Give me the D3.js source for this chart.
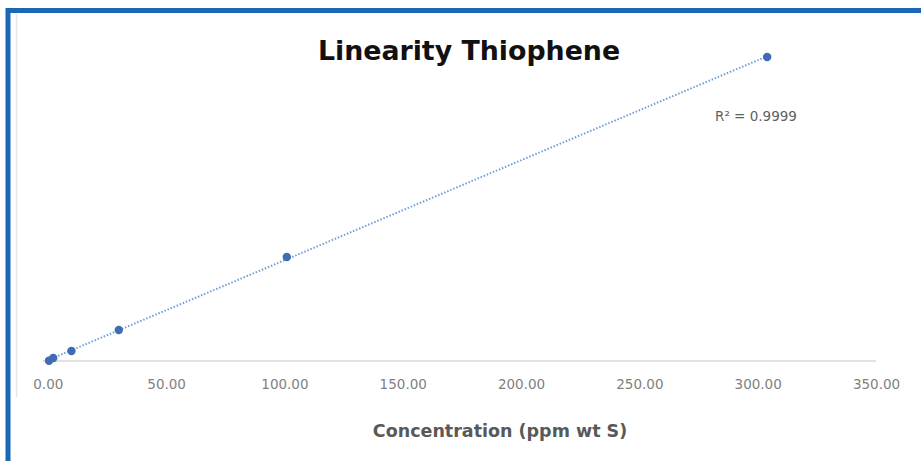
<!DOCTYPE html>
<html lang="en">
<head>
  <meta charset="UTF-8">
  <title>Linearity Thiophene</title>
  <script src="https://d3js.org/d3.v7.min.js"></script>
  <style>
    body { margin: 0; background: #fff; }
    svg { display: block; }
    .tick text { font-family: "DejaVu Sans", sans-serif; }
  </style>
</head>
<body>
<div id="chart"></div>
<script>

// data
const concentration = [0.5, 2.3, 10, 30, 101, 304];   // ppm wt S
const response = [0.3, 3, 10, 31, 104, 304];           // detector response (axis hidden)
const xTicks = [0, 50, 100, 150, 200, 250, 300, 350];
const titleText = "Linearity Thiophene";
const xTitle = "Concentration (ppm wt S)";
const r2Text = "R² = 0.9999";

const width = 921;
const height = 461;

const svg = d3.select("#chart")
  .append("svg")
  .attr("width", width)
  .attr("height", height);

// frame: blue border on top and left
svg.append("path")
  .attr("d", `M8,${height} V10.5 H${width}`)
  .attr("fill", "none")
  .attr("stroke", "#1a68b4")
  .attr("stroke-width", 5);

// faint chart-area edge
svg.append("line")
  .attr("x1", 16.5).attr("x2", 16.5)
  .attr("y1", 14).attr("y2", 397)
  .attr("stroke", "#e6e6e6")
  .attr("stroke-width", 1.5);

// scales
const x = d3.scaleLinear().domain([0, 350]).range([47.8, 876]);
const y = d3.scaleLinear().domain([0, 304]).range([361, 57]);

// x axis
const xAxis = svg.append("g")
  .attr("transform", `translate(0,${y(0)})`)
  .call(d3.axisBottom(x).tickValues(xTicks).tickSize(0).tickPadding(18)
    .tickFormat(d3.format(".2f")));
xAxis.select(".domain")
  .attr("d", `M${x(0) - 5},0H${x(350)}`)
  .attr("stroke", "#d9d9d9")
  .attr("stroke-width", 1.5);
xAxis.selectAll(".tick text")
  .attr("font-size", 13.5)
  .attr("fill", "#7f7f7f");

// linear trendline (least squares)
const mx = d3.mean(concentration);
const my = d3.mean(response);
const slope = d3.sum(concentration, (c, i) => (c - mx) * (response[i] - my)) /
  d3.sum(concentration, c => (c - mx) * (c - mx));
const intercept = my - slope * mx;
const xMin = d3.min(concentration);
const xMax = d3.max(concentration);

svg.append("line")
  .attr("x1", x(xMin)).attr("y1", y(intercept + slope * xMin))
  .attr("x2", x(xMax)).attr("y2", y(intercept + slope * xMax))
  .attr("stroke", "#6f9fd8")
  .attr("stroke-width", 2)
  .attr("stroke-dasharray", "1.5,1.8");

// markers
svg.append("g")
  .selectAll("circle")
  .data(concentration)
  .join("circle")
  .attr("cx", d => x(d))
  .attr("cy", (d, i) => y(response[i]))
  .attr("r", 4.2)
  .attr("fill", "#3f6db3");

// R squared label
svg.append("text")
  .attr("x", 715)
  .attr("y", 121)
  .attr("font-family", "DejaVu Sans, sans-serif")
  .attr("font-size", 13.5)
  .attr("fill", "#5f5f5f")
  .text(r2Text);

// title
svg.append("text")
  .attr("x", 469)
  .attr("y", 60)
  .attr("text-anchor", "middle")
  .attr("font-family", "DejaVu Sans, sans-serif")
  .attr("font-weight", "bold")
  .attr("font-size", 26.8)
  .attr("fill", "#111")
  .text(titleText);

// x axis title
svg.append("text")
  .attr("x", 500)
  .attr("y", 437)
  .attr("text-anchor", "middle")
  .attr("font-family", "DejaVu Sans, sans-serif")
  .attr("font-weight", "bold")
  .attr("font-size", 17.5)
  .attr("fill", "#595959")
  .text(xTitle);

</script>
</body>
</html>
